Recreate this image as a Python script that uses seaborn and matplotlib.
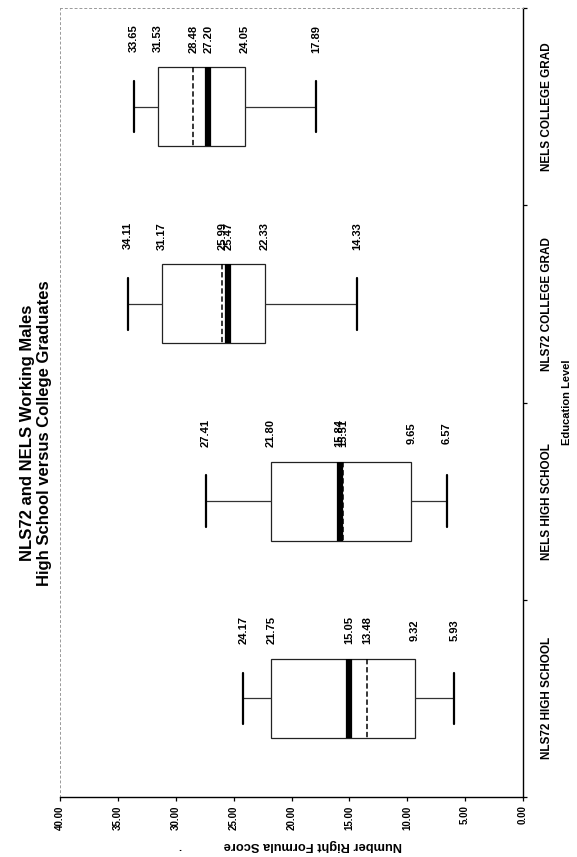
import numpy as np
import pandas as pd
import matplotlib
matplotlib.use("Agg")
import matplotlib.pyplot as plt
import seaborn as sns

# Five-number summaries and means of the formula score by education level
categories = ["NLS72 HIGH SCHOOL", "NELS HIGH SCHOOL", "NLS72 COLLEGE GRAD", "NELS COLLEGE GRAD"]
low_whisker = [5.93, 6.57, 14.33, 17.89]
first_quartile = [9.32, 9.65, 22.33, 24.05]
medians = [15.05, 15.84, 25.47, 27.20]
third_quartile = [21.75, 21.80, 31.17, 31.53]
high_whisker = [24.17, 27.41, 34.11, 33.65]
means = [13.48, 15.51, 25.99, 28.48]
score_ticks = [0, 5, 10, 15, 20, 25, 30, 35, 40]

sns.set_theme(style="white")
plt.rcParams["font.family"] = ["Liberation Sans", "DejaVu Sans"]
plt.rcParams["font.weight"] = "bold"
for key in ("text.color", "axes.labelcolor", "xtick.color", "ytick.color"):
    plt.rcParams[key] = "black"

W, H = 577, 857
fig = plt.figure(figsize=(W / 100, H / 100), dpi=100)
left, right, top, bottom = 60, 523, 8, 797
ax = fig.add_axes([left / W, 1 - bottom / H, (right - left) / W, (bottom - top) / H])

# long-form table: the five summary points of each group
summary = pd.DataFrame({
    "level": np.repeat(categories, 5),
    "score": np.column_stack([low_whisker, first_quartile, medians,
                              third_quartile, high_whisker]).ravel(),
})
order = categories[::-1]

sns.boxplot(
    data=summary, x="score", y="level", order=order, orient="h",
    whis=(0, 100), width=0.4, color="white", linecolor="#222222",
    linewidth=0.9, showfliers=False, ax=ax,
    medianprops=dict(color="black", linewidth=4.5, solid_capstyle="butt"),
    capprops=dict(color="black", linewidth=1.6),
    whiskerprops=dict(color="#333333", linewidth=0.9),
    capwidths=0.26,
)

# dashed mean line across each box
for i, cat in enumerate(order):
    k = categories.index(cat)
    ax.vlines(means[k], i - 0.2, i + 0.2, colors="black",
              linestyles=(0, (3.5, 1.8)), linewidth=1.1, zorder=5)

# value labels above each box
for i, cat in enumerate(order):
    k = categories.index(cat)
    for v in (high_whisker[k], third_quartile[k], means[k], medians[k],
              first_quartile[k], low_whisker[k]):
        ax.text(v, i - 0.345, f"{v:.2f}", rotation=90, ha="center",
                va="center", fontsize=8, fontweight="bold", color="black")

# score axis runs right-to-left along the bottom
ax.set_xlim(40, 0)
ax.set_xticks(score_ticks)
ax.set_xticklabels([f"{t:.2f}" for t in score_ticks], rotation=90,
                   fontsize=7, fontweight="bold", color="black")
ax.tick_params(axis="x", direction="out", length=3, width=0.9,
               color="black", pad=3, bottom=True)

# category axis on the right with ticks between groups
ax.set_ylim(3.5, -0.5)
ax.yaxis.tick_right()
ax.set_yticks(np.arange(-0.5, 4.0, 1.0))
ax.set_yticklabels([])
ax.set_yticks(np.arange(4), minor=True)
ax.set_yticklabels(order, minor=True, rotation=90, va="center", ha="left",
                   fontsize=8.5, fontweight="bold", color="black")
ax.tick_params(axis="y", which="major", direction="out", length=3,
               width=0.9, color="black", right=True, left=False)
ax.tick_params(axis="y", which="minor", length=0, pad=13, right=True,
               left=False)

ax.set_xlabel("Number Right Formula Score", rotation=180, fontsize=9.3,
              fontweight="bold", color="black")
ax.xaxis.set_label_coords(0.545, -0.053)
ax.yaxis.set_label_position("right")
ax.set_ylabel("Education Level", rotation=90, fontsize=8, fontweight="bold",
              color="black")
ax.yaxis.set_label_coords(1.085, 0.5)

for side in ("bottom", "right"):
    ax.spines[side].set_color("black")
    ax.spines[side].set_linewidth(1.0)
for side in ("top", "left"):
    ax.spines[side].set_color("#999999")
    ax.spines[side].set_linewidth(0.7)
    ax.spines[side].set_linestyle((0, (2, 3)))

fig.text(36 / W, 1 - 433 / H, "NLS72 and NELS Working Males\nHigh School versus College Graduates",
         rotation=90, ha="center", va="center", fontsize=12,
         fontweight="bold", linespacing=1.2, color="black")
fig.text(180 / W, 1 - 848 / H, ".", ha="center", va="center", fontsize=8,
         fontweight="bold", color="black")

fig.savefig("out.png", dpi=100, facecolor="white")
